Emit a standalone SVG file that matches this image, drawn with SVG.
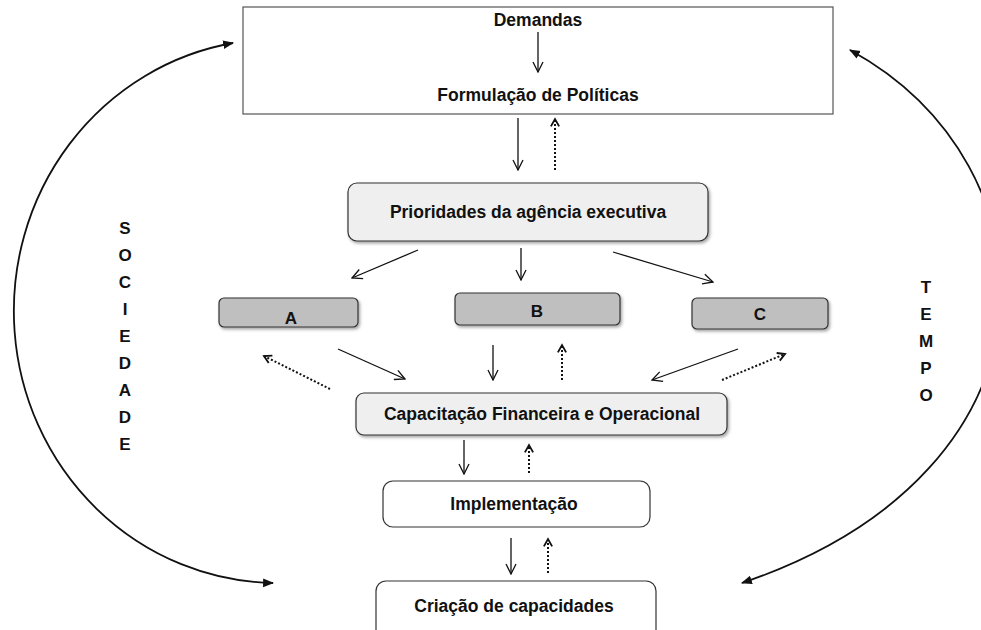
<svg xmlns="http://www.w3.org/2000/svg" width="981" height="630" viewBox="0 0 981 630">
<style>
  .t { font-family: "Liberation Sans", Arial, sans-serif; font-weight: bold; fill: #111; text-anchor: middle; }
  .main { font-size: 17.5px; }
  .let { font-size: 17px; }
  .sol { stroke: #111; stroke-width: 1.3; fill: none; marker-end: url(#open); }
  .dot { stroke: #111; stroke-width: 2; stroke-dasharray: 2 2; fill: none; marker-end: url(#openB); }
  .arc { stroke: #111; stroke-width: 1.8; fill: none; marker-start: url(#solid); marker-end: url(#solid); }
  .light { fill: #efefef; stroke: #333; stroke-width: 1.2; }
  .grey { fill: #bfbfbf; stroke: #333; stroke-width: 1.2; }
  .white { fill: #ffffff; stroke: #333; stroke-width: 1.2; }
</style>
<defs>
  <filter id="sh" x="-10%" y="-20%" width="130%" height="160%">
    <feDropShadow dx="1.5" dy="2" stdDeviation="1.5" flood-color="#000" flood-opacity="0.35"/>
  </filter>
  <marker id="open" viewBox="0 0 12 12" refX="11" refY="6" markerWidth="12" markerHeight="12" markerUnits="userSpaceOnUse" orient="auto">
    <path d="M1,1 L11,6 L1,11" fill="none" stroke="#111" stroke-width="1.3"/>
  </marker>
  <marker id="openB" viewBox="0 0 12 12" refX="10" refY="6" markerWidth="11" markerHeight="11" markerUnits="userSpaceOnUse" orient="auto">
    <path d="M2,1.5 L10,6 L2,10.5" fill="none" stroke="#111" stroke-width="2"/>
  </marker>
  <marker id="solid" viewBox="0 0 10 10" refX="9" refY="5" markerWidth="11" markerHeight="11" markerUnits="userSpaceOnUse" orient="auto-start-reverse">
    <path d="M0,1 L10,5 L0,9 Z" fill="#111"/>
  </marker>
</defs>
<rect width="981" height="630" fill="#ffffff"/>

<g id="formulacao">
  <rect x="243" y="7" width="590" height="107" fill="#fff" stroke="#555" stroke-width="1.2"/>
  <text class="t main" x="538" y="26">Demandas</text>
  <text class="t main" x="538" y="101">Formulação de Políticas</text>
</g>

<g id="prioridades">
  <rect class="light" x="348" y="183" width="360" height="58" rx="9" filter="url(#sh)"/>
  <text class="t main" x="528" y="218">Prioridades da agência executiva</text>
</g>

<g id="nodeA">
  <rect class="grey" x="219" y="298" width="139" height="29" rx="5" filter="url(#sh)"/>
  <text class="t let" x="291" y="324">A</text>
</g>
<g id="nodeB">
  <rect class="grey" x="455" y="293" width="165" height="32" rx="5" filter="url(#sh)"/>
  <text class="t let" x="537" y="317">B</text>
</g>
<g id="nodeC">
  <rect class="grey" x="692" y="298" width="136" height="31" rx="5" filter="url(#sh)"/>
  <text class="t let" x="760" y="320">C</text>
</g>

<g id="capacitacao">
  <rect class="light" x="356" y="393" width="371" height="42" rx="8" filter="url(#sh)"/>
  <text class="t main" x="542" y="420">Capacitação Financeira e Operacional</text>
</g>

<g id="implementacao">
  <rect class="white" x="383" y="481" width="267" height="46" rx="10"/>
  <text class="t main" x="514" y="510">Implementação</text>
</g>

<g id="criacao">
  <rect class="white" x="376" y="581" width="280" height="60" rx="10"/>
  <text class="t main" x="514" y="612">Criação de capacidades</text>
</g>

<g id="sociedade">
  <text class="t let" x="125" y="234">S</text>
  <text class="t let" x="125" y="261">O</text>
  <text class="t let" x="125" y="288">C</text>
  <text class="t let" x="125" y="315">I</text>
  <text class="t let" x="125" y="342">E</text>
  <text class="t let" x="125" y="369">D</text>
  <text class="t let" x="125" y="396">A</text>
  <text class="t let" x="125" y="423">D</text>
  <text class="t let" x="125" y="450">E</text>
</g>

<g id="tempo">
  <text class="t let" x="926" y="293">T</text>
  <text class="t let" x="926" y="320">E</text>
  <text class="t let" x="926" y="347">M</text>
  <text class="t let" x="926" y="374">P</text>
  <text class="t let" x="926" y="401">O</text>
</g>

<g id="connectors">
  <path class="arc" d="M233,43 A264,272 0 0 0 273,583"/>
  <path class="arc" d="M850,50 C1060,165 1075,470 742,583"/>
  <line class="sol" x1="538" y1="32" x2="538" y2="72"/>
  <line class="sol" x1="518" y1="118" x2="518" y2="170"/>
  <line class="dot" x1="555" y1="170" x2="555" y2="119"/>
  <line class="sol" x1="418" y1="250" x2="352" y2="278"/>
  <line class="sol" x1="521" y1="248" x2="521" y2="280"/>
  <line class="sol" x1="613" y1="252" x2="713" y2="282"/>
  <line class="sol" x1="338" y1="349" x2="405" y2="379"/>
  <line class="dot" x1="330" y1="389" x2="264" y2="356"/>
  <line class="sol" x1="493" y1="345" x2="493" y2="380"/>
  <line class="dot" x1="562" y1="380" x2="562" y2="345"/>
  <line class="sol" x1="738" y1="349" x2="652" y2="380"/>
  <line class="dot" x1="722" y1="380" x2="785" y2="354"/>
  <line class="sol" x1="464" y1="440" x2="464" y2="474"/>
  <line class="dot" x1="529" y1="473" x2="529" y2="445"/>
  <line class="sol" x1="511" y1="538" x2="511" y2="574"/>
  <line class="dot" x1="548" y1="573" x2="548" y2="539"/>
</g>
</svg>
